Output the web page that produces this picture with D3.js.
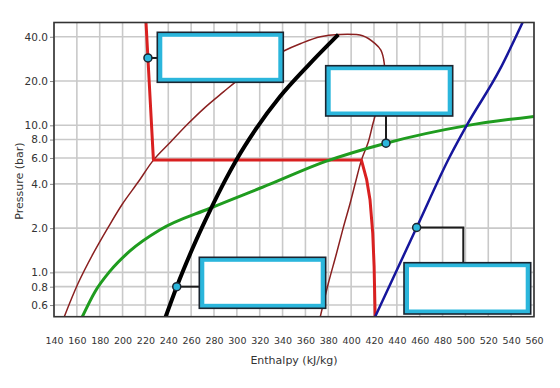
<!DOCTYPE html>
<html><head><meta charset="utf-8">
<script src="https://cdn.jsdelivr.net/npm/d3@7"></script>
<style>
html,body{margin:0;padding:0;background:#fff;}
svg{display:block;}
text{font-family:"DejaVu Sans",Verdana,sans-serif;fill:#333;}
</style></head>
<body><svg id="chart" width="560" height="388"></svg>
<script>
// ---- data ----
const xTicks = [140,160,180,200,220,240,260,280,300,320,340,360,380,400,420,440,460,480,500,520,540,560];
const yTicks = [0.6,0.8,1.0,2.0,4.0,6.0,8.0,10.0,20.0,40.0];
const xDomain = [140,560];
const yDomain = [0.5,50];

// saturation dome (liquid side up to the critical point, then vapour side down)
const domeH = [149,161,174,187,200,214,227,242,257,272,288,304,322,341,356,373,389,410,421,426,429,429,427,423,419,415,409,404,399,393,387,380,373];
const domeP = [0.5,0.84,1.33,2.0,2.93,4.15,5.8,7.7,10.2,13.2,16.8,21.2,26.3,32,36,40,41.4,40.6,35.9,32.4,26.3,21.2,16.8,13.2,10.2,7.7,5.8,4.15,2.93,2.0,1.33,0.84,0.5];

// red isotherm
const redH = [220.5,227,409,413.6,416.5,418.9,420.1,421];
const redP = [50,5.8,5.8,4.27,3.12,1.85,1.1,0.5];

// black line
const blackH = [237.7,247.4,260.8,276.9,290.1,299.7,316.3,337.8,362.3,388.8];
const blackP = [0.5,0.8,1.43,2.67,4.27,5.84,9.35,15.7,25.5,41.4];

// green line
const greenH = [164.8,175.9,189,206.5,232.8,276.5,329,377.1,430.5,501.1,560];
const greenP = [0.5,0.74,1.02,1.4,1.95,2.73,3.98,5.66,7.56,9.95,11.5];

// blue line
const blueH = [421,457.3,486.5,501,530,550];
const blueP = [0.5,2.02,6.16,9.95,23.9,50];

// callout anchor points
const markerH = [222.2,430.5,247.4,457.3];
const markerP = [28.7,7.56,0.8,2.02];

// ---- layout ----
const svg = d3.select("#chart");
const L = 54, T = 22.5, R = 534, B = 316.7;
const x = d3.scaleLinear().domain(xDomain).range([L,R]);
const y = d3.scaleLog().domain(yDomain).range([B,T]);

svg.append("defs").append("clipPath").attr("id","plotclip")
  .append("rect").attr("x",L).attr("y",T).attr("width",R-L).attr("height",B-T);

// grid
const grid = svg.append("g");
grid.selectAll("line.v").data(xTicks).join("line")
  .attr("x1",d=>x(d)).attr("x2",d=>x(d)).attr("y1",T).attr("y2",B)
  .attr("stroke","#c9c9c9").attr("stroke-width",1.6);
grid.selectAll("line.h").data(yTicks).join("line")
  .attr("x1",L).attr("x2",R).attr("y1",d=>y(d)).attr("y2",d=>y(d))
  .attr("stroke","#c9c9c9").attr("stroke-width",1.6);

// axes
const xAxis = svg.append("g").attr("transform",`translate(0,${B})`)
  .call(d3.axisBottom(x).tickValues(xTicks).tickSize(0).tickPadding(20.5).tickFormat(d3.format("d")));
xAxis.select(".domain").remove();
xAxis.selectAll("text").attr("font-size","9.5px").style("font-family","'DejaVu Sans',Verdana,sans-serif").attr("fill","#333");

const yAxis = svg.append("g").attr("transform",`translate(${L},0)`)
  .call(d3.axisLeft(y).tickValues(yTicks).tickSize(4).tickPadding(2).tickFormat(d3.format(".1f")));
yAxis.select(".domain").remove();
yAxis.selectAll(".tick line").attr("stroke","#888");
yAxis.selectAll("text").attr("font-size","10.5px").style("font-family","'DejaVu Sans',Verdana,sans-serif").attr("fill","#333");

svg.append("text").attr("x",(L+R)/2).attr("y",364).attr("text-anchor","middle")
  .attr("font-size","11px").text("Enthalpy (kJ/kg)");
svg.append("text").attr("transform","translate(23,181) rotate(-90)").attr("text-anchor","middle")
  .attr("font-size","11px").text("Pressure (bar)");

// curves
const plot = svg.append("g").attr("clip-path","url(#plotclip)");
function series(hs, ps){ return hs.map((h,i)=>[h,ps[i]]); }
const lineCR = d3.line().x(d=>x(d[0])).y(d=>y(d[1])).curve(d3.curveCatmullRom.alpha(0.5));
const lineMX = d3.line().x(d=>x(d[0])).y(d=>y(d[1])).curve(d3.curveMonotoneX);
const lineLin = d3.line().x(d=>x(d[0])).y(d=>y(d[1]));

plot.append("path").attr("d",lineCR(series(domeH,domeP))).attr("fill","none")
  .attr("stroke","#8a2020").attr("stroke-width",1.5);
plot.append("path").attr("d",lineLin(series(redH,redP))).attr("fill","none")
  .attr("stroke","#d92020").attr("stroke-width",3).attr("stroke-linejoin","round");
plot.append("path").attr("d",lineMX(series(greenH,greenP))).attr("fill","none")
  .attr("stroke","#1f9c1f").attr("stroke-width",3);
plot.append("path").attr("d",lineMX(series(blueH,blueP))).attr("fill","none")
  .attr("stroke","#16169c").attr("stroke-width",2.5);
plot.append("path").attr("d",lineMX(series(blackH,blackP))).attr("fill","none")
  .attr("stroke","#000").attr("stroke-width",4);

// callout boxes
const boxes = [
  {x0:157.3,y0:32.3,x1:283.3,y1:82.3},
  {x0:325.7,y0:65.7,x1:452.7,y1:116},
  {x0:199.3,y0:257.3,x1:325.7,y1:308.3},
  {x0:404,y0:262.7,x1:530.7,y1:314}
];
const mk = markerH.map((h,i)=>[x(h),y(markerP[i])]);
const connectors = [
  [[mk[0][0],mk[0][1]],[boxes[0].x0,mk[0][1]]],
  [[mk[1][0],mk[1][1]],[mk[1][0],boxes[1].y1]],
  [[mk[2][0],mk[2][1]],[boxes[2].x0,mk[2][1]]],
  [[mk[3][0],mk[3][1]],[463.3,mk[3][1]],[463.3,boxes[3].y0]]
];
const ov = svg.append("g");
ov.selectAll("path.conn").data(connectors).join("path")
  .attr("d",d=>d3.line()(d)).attr("fill","none").attr("stroke","#1c1c1c").attr("stroke-width",2);
ov.selectAll("rect.outer").data(boxes).join("rect")
  .attr("x",d=>d.x0).attr("y",d=>d.y0).attr("width",d=>d.x1-d.x0).attr("height",d=>d.y1-d.y0)
  .attr("fill","#2bb6dc").attr("stroke","#1b2530").attr("stroke-width",1.6);
ov.selectAll("rect.inner").data(boxes).join("rect")
  .attr("x",d=>d.x0+5).attr("y",d=>d.y0+4.5).attr("width",d=>d.x1-d.x0-10).attr("height",d=>d.y1-d.y0-9)
  .attr("fill","#fff");
ov.selectAll("circle").data(mk).join("circle")
  .attr("cx",d=>d[0]).attr("cy",d=>d[1]).attr("r",4)
  .attr("fill","#2bb6dc").attr("stroke","#1b2530").attr("stroke-width",1.5);

// frame
svg.append("rect").attr("x",L).attr("y",T).attr("width",R-L).attr("height",B-T)
  .attr("fill","none").attr("stroke","#333").attr("stroke-width",1.6);
</script></body></html>
